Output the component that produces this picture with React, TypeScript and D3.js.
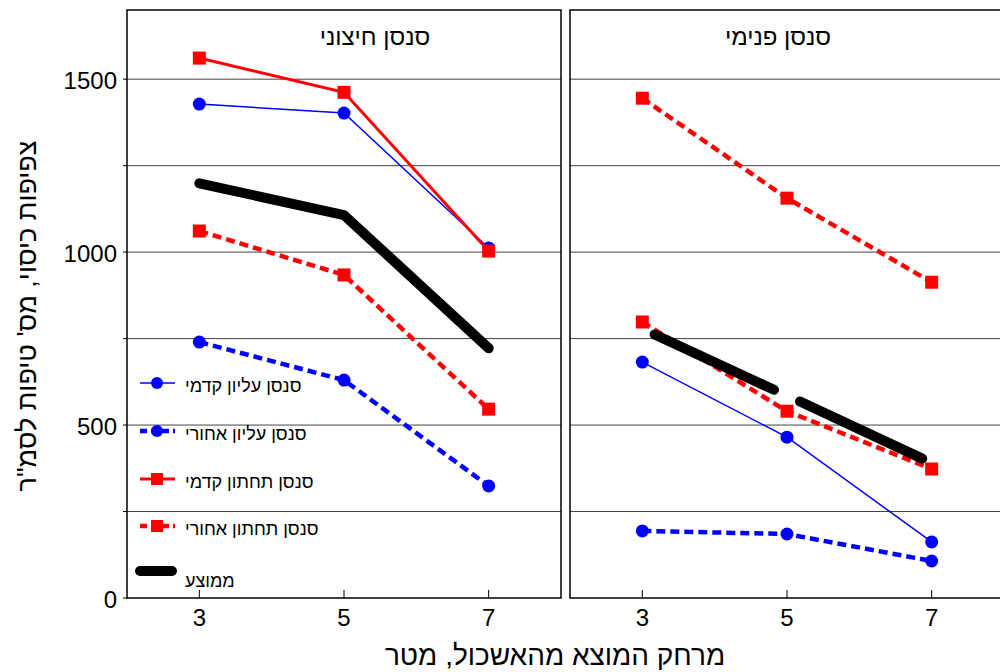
import React from "react";
import * as d3 from "d3";

const distances = [3, 5, 7];
const yTicks = [0, 500, 1000, 1500];
const gridValues = [250, 500, 750, 1000, 1250, 1500];
const panelTitles = ["סנסן חיצוני", "סנסן פנימי"];

// Outer panel
const outerUpperFront = [1428, 1402, 1012];
const outerUpperBack = [740, 630, 324];
const outerLowerFront = [1561, 1462, 1003];
const outerLowerBack = [1061, 934, 546];
const outerAverage = [1199, 1107, 722];

// Inner panel
const innerUpperFront = [682, 465, 162];
const innerUpperBack = [194, 185, 107];
const innerLowerFront = [1445, 1156, 913];
const innerLowerBack = [798, 540, 373];
const innerAverageSeg1X = [3.17, 4.82];
const innerAverageSeg1Y = [762, 602];
const innerAverageSeg2X = [5.18, 6.87];
const innerAverageSeg2Y = [568, 403];

const legendLabels = [
  "סנסן עליון קדמי",
  "סנסן עליון אחורי",
  "סנסן תחתון קדמי",
  "סנסן תחתון אחורי",
  "ממוצע",
];

const yTitle = "צפיפות כיסוי, מס' טיפות לסמ\"ר";
const xTitle = "מרחק המוצא מהאשכול, מטר";

const FONT = "'Liberation Sans', Arial, sans-serif";
const BLUE = "#0000ff";
const RED = "#ff0000";

type Style = { color: string; width: number; dash?: string; marker: "circle" | "square" };
const sUF: Style = { color: BLUE, width: 1.5, marker: "circle" };
const sUB: Style = { color: BLUE, width: 4.5, dash: "9,5", marker: "circle" };
const sLF: Style = { color: RED, width: 3, marker: "square" };
const sLB: Style = { color: RED, width: 4.5, dash: "9,5", marker: "square" };

const legendStyles = [sUF, sUB, sLF, sLB];

export default function App() {
  const W = 1000;
  const H = 672;
  const top = 10;
  const bottom = 598;
  const y = d3.scaleLinear().domain([0, 1700]).range([bottom, top]);
  const panels = [
    { x0: 127, x1: 561, titleX: 375 },
    { x0: 570, x1: 1004, titleX: 778 },
  ];
  const xs = panels.map((p) => d3.scaleLinear().domain([2, 8]).range([p.x0, p.x1]));

  const line = (xsc: d3.ScaleLinear<number, number>, xv: number[], yv: number[]) =>
    d3.line<number>().x((_, i) => xsc(xv[i])).y((v) => y(v))(yv) || "";

  const renderSeries = (xsc: d3.ScaleLinear<number, number>, vals: number[], st: Style, key: string) => (
    <g key={key}>
      <path
        d={line(xsc, distances, vals)}
        fill="none"
        stroke={st.color}
        strokeWidth={st.width}
        strokeDasharray={st.dash}
      />
      {vals.map((v, i) =>
        st.marker === "circle" ? (
          <circle key={i} cx={xsc(distances[i])} cy={y(v)} r={6.5} fill={st.color} />
        ) : (
          <rect key={i} x={xsc(distances[i]) - 6.5} y={y(v) - 6.5} width={13} height={13} fill={st.color} />
        )
      )}
    </g>
  );

  const panelSeries = [
    [
      { vals: outerUpperBack, st: sUB },
      { vals: outerLowerBack, st: sLB },
      { vals: outerUpperFront, st: sUF },
      { vals: outerLowerFront, st: sLF },
    ],
    [
      { vals: innerUpperBack, st: sUB },
      { vals: innerLowerBack, st: sLB },
      { vals: innerLowerFront, st: sLB },
      { vals: innerUpperFront, st: sUF },
    ],
  ];

  const legendY = [383, 431, 479, 526, 571];

  return (
    <svg
      width={W}
      height={H}
      style={{ position: "absolute", left: 0, top: 0, background: "#fff" }}
      fontFamily={FONT}
    >
      <rect x={0} y={0} width={W} height={H} fill="#fff" />
      {panels.map((p, pi) => (
        <g key={pi}>
          {gridValues.map((g) => (
            <line key={g} x1={p.x0} x2={p.x1} y1={y(g)} y2={y(g)} stroke="#444" strokeWidth={1} />
          ))}
          {distances.map((d) => (
            <line key={d} x1={xs[pi](d)} x2={xs[pi](d)} y1={bottom} y2={bottom - 8} stroke="#000" strokeWidth={1} />
          ))}
          {distances.map((d) => (
            <text key={"t" + d} x={xs[pi](d)} y={626} fontSize={24} textAnchor="middle" fill="#000">
              {d}
            </text>
          ))}
          <text x={p.titleX} y={45} fontSize={24} textAnchor="middle" direction="rtl" fill="#000">
            {panelTitles[pi]}
          </text>
          {panelSeries[pi].map((s, si) => renderSeries(xs[pi], s.vals, s.st, "s" + si))}
          {pi === 0 && (
            <path
              d={line(xs[0], distances, outerAverage)}
              fill="none"
              stroke="#000"
              strokeWidth={10}
              strokeLinecap="round"
              strokeLinejoin="round"
            />
          )}
          {pi === 1 && (
            <g>
              <path
                d={line(xs[1], innerAverageSeg1X, innerAverageSeg1Y)}
                fill="none"
                stroke="#000"
                strokeWidth={10}
                strokeLinecap="round"
              />
              <path
                d={line(xs[1], innerAverageSeg2X, innerAverageSeg2Y)}
                fill="none"
                stroke="#000"
                strokeWidth={10}
                strokeLinecap="round"
              />
            </g>
          )}
          <rect x={p.x0} y={top} width={p.x1 - p.x0} height={bottom - top} fill="none" stroke="#000" strokeWidth={1.5} />
        </g>
      ))}
      {yTicks.map((t) => (
        <text key={t} x={117} y={y(t) + 10} fontSize={24} textAnchor="end" fill="#000">
          {t}
        </text>
      ))}
      {gridValues.concat([0]).map((g) => (
        <line key={"yt" + g} x1={123} x2={127} y1={y(g)} y2={y(g)} stroke="#000" strokeWidth={1} />
      ))}
      {/* Legend */}
      {legendStyles.map((st, i) => (
        <g key={i}>
          <line x1={140} x2={175} y1={legendY[i]} y2={legendY[i]} stroke={st.color} strokeWidth={st.width} strokeDasharray={st.dash ? "7,4" : undefined} />
          {st.marker === "circle" ? (
            <circle cx={157} cy={legendY[i]} r={6} fill={st.color} />
          ) : (
            <rect x={151} y={legendY[i] - 6} width={12} height={12} fill={st.color} />
          )}
          <text x={185} y={legendY[i] + 9} fontSize={18} fill="#000">
            {legendLabels[i]}
          </text>
        </g>
      ))}
      <line x1={140} x2={172} y1={legendY[4]} y2={legendY[4]} stroke="#000" strokeWidth={10} strokeLinecap="round" />
      <text x={185} y={legendY[4] + 16} fontSize={18} fill="#000">
        {legendLabels[4]}
      </text>
      {/* Axis titles */}
      <text
        transform={`translate(36, ${316}) rotate(-90)`}
        fontSize={27}
        textAnchor="middle"
        direction="rtl"
        fill="#000"
      >
        {yTitle}
      </text>
      <text x={555} y={665} fontSize={28} textAnchor="middle" direction="rtl" fill="#000">
        {xTitle}
      </text>
    </svg>
  );
}
